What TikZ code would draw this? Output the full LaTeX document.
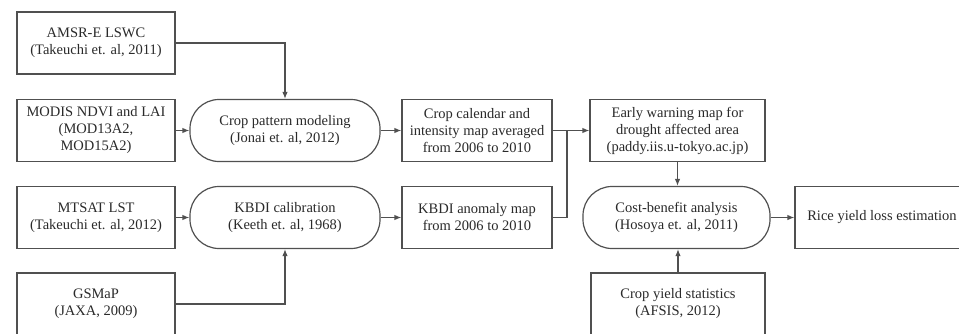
\documentclass[tikz,border=0pt]{standalone}
\usepackage{fontspec}
\setmainfont{Liberation Serif}
\usetikzlibrary{arrows.meta}
\definecolor{linec}{HTML}{505050}
\definecolor{textc}{HTML}{2A2A2A}
\begin{document}
\begin{tikzpicture}[x=1pt,y=-1pt,
  box/.style={draw=linec, line width=1.2pt, inner sep=0pt, minimum height=62pt,
    align=center, text=textc, font=\fontsize{14.5}{17}\selectfont},
  rbox/.style={box, rounded corners=29pt},
  conn/.style={draw=linec, line width=1.2pt},
  arr/.style={conn, -{Latex[length=7pt,width=5.5pt]}}]
\path[use as bounding box, clip] (0,0) rectangle (959,333);
\fill[white] (0,0) rectangle (959,333);
% left column
\node[box, minimum width=158pt] (amsr) at (96,43) {AMSR-E LSWC\\(Takeuchi et. al, 2011)};
\node[box, minimum width=158pt] (modis) at (96,130.5) {MODIS NDVI and LAI\\(MOD13A2,\\MOD15A2)};
\node[box, minimum width=158pt] (mtsat) at (96,217.5) {MTSAT LST\\(Takeuchi et. al, 2012)};
\node[box, minimum width=158pt] (gsmap) at (96,304) {GSMaP\\(JAXA, 2009)};
% rounded processes
\node[rbox, minimum width=190pt] (croppat) at (285,130.5) {Crop pattern modeling\\(Jonai et. al, 2012)};
\node[rbox, minimum width=190pt] (kbdical) at (285,217.5) {KBDI calibration\\(Keeth et. al, 1968)};
% maps
\node[box, minimum width=150pt] (calendar) at (477,130.5) {Crop calendar and\\intensity map averaged\\from 2006 to 2010};
\node[box, minimum width=150pt] (anomaly) at (477,217.5) {KBDI anomaly map\\from 2006 to 2010};
% right part
\node[box, minimum width=175pt] (early) at (677.5,130.5) {Early warning map for\\drought affected area\\(paddy.iis.u-tokyo.ac.jp)};
\node[rbox, minimum width=187pt] (cost) at (676.5,217.5) {Cost-benefit analysis\\(Hosoya et. al, 2011)};
\node[box, minimum width=174pt] (yield) at (678,304) {Crop yield statistics\\(AFSIS, 2012)};
\node[box, minimum width=174pt] (rice) at (882,217.5) {Rice yield loss estimation};
\coordinate (j) at (567,130.5);
% connectors
\draw[arr] (amsr.east) -| (croppat.north);
\draw[arr] (modis.east) -- (croppat.west);
\draw[arr] (croppat.east) -- (calendar.west);
\draw[arr] (calendar.east) -- (early.west);
\draw[conn] (anomaly.east) -| (j);
\draw[arr] (mtsat.east) -- (kbdical.west);
\draw[arr] (kbdical.east) -- (anomaly.west);
\draw[arr] (gsmap.east) -| (kbdical.south);
\draw[arr] (early.south) -- (early.south |- cost.north);
\draw[arr] (cost.east) -- (rice.west);
\draw[arr] (yield.north) -- (yield.north |- cost.south);
\end{tikzpicture}
\end{document}
